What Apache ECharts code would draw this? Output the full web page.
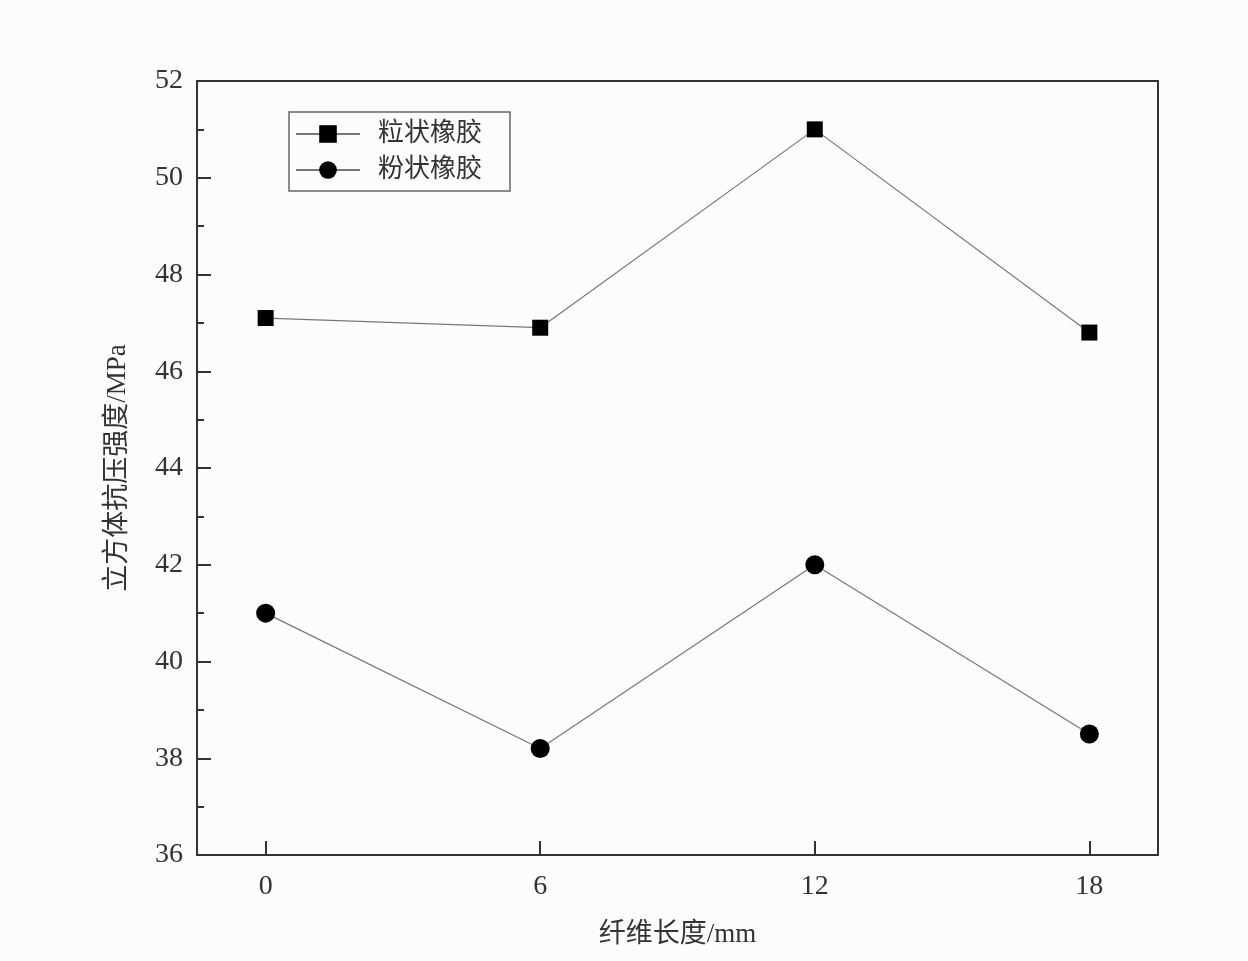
<!DOCTYPE html>
<html><head><meta charset="utf-8">
<script src="https://cdn.jsdelivr.net/npm/echarts@6/dist/echarts.min.js"></script>
<style>html,body{margin:0;padding:0;background:#fcfcfc}#c{width:1248px;height:961px}</style>
</head><body><div id="c"></div>
<script>
var fiberLength = [0, 6, 12, 18];
var xTicks = [0, 6, 12, 18];
var granular = [47.1, 46.9, 51.0, 46.8];
var powder = [41.0, 38.2, 42.0, 38.5];
var seriesNames = ['粒状橡胶', '粉状橡胶'];

var serif = '"Liberation Serif", "Noto Sans CJK SC", serif';
var txt = '#333';
function pairs(xs, ys){ return xs.map(function(x,i){return [x, ys[i]];}); }

var chart = echarts.init(document.getElementById('c'));
chart.setOption({
  backgroundColor: '#fcfcfc',
  animation: false,
  grid: {left:197, right:90, top:81, bottom:106, show:true, borderColor:'#333', borderWidth:2, backgroundColor:'transparent'},
  legend: {
    left: 289, top: 112, orient: 'vertical',
    padding: [9, 28, 8, 6],
    itemGap: 10,
    borderColor: '#666', borderWidth: 1.5,
    itemWidth: 64, itemHeight: 22,
    textStyle: {fontFamily: serif, fontSize: 26, color: txt, padding:[0,0,0,13]},
    data: seriesNames
  },
  xAxis: {
    type: 'value', min: -1.5, max: 19.5,
    name: '纤维长度/mm', nameLocation: 'middle', nameGap: 66,
    nameTextStyle: {fontFamily: serif, fontSize: 27, color: txt},
    axisLine: {show:true, onZero:false, lineStyle:{color:'#333', width:2}},
    axisTick: {show:true, inside:true, length:14, lineStyle:{color:'#333', width:2}, customValues: xTicks},
    axisLabel: {fontFamily: serif, fontSize: 28, color: txt, margin: 18, customValues: xTicks},
    splitLine: {show:false}
  },
  yAxis: {
    type: 'value', min: 36, max: 52, interval: 2,
    name: '立方体抗压强度/MPa', nameLocation: 'middle', nameGap: 66,
    nameTextStyle: {fontFamily: serif, fontSize: 27, color: txt},
    axisLine: {show:true, onZero:false, lineStyle:{color:'#333', width:2}},
    axisTick: {show:true, inside:true, length:14, lineStyle:{color:'#333', width:2}},
    minorTick: {show:true, splitNumber:2, length:7, lineStyle:{color:'#333', width:2}},
    axisLabel: {fontFamily: serif, fontSize: 28, color: txt, margin: 14},
    splitLine: {show:false}
  },
  series: [
    {name: seriesNames[0], type:'line', data: pairs(fiberLength, granular),
     symbol:'rect', symbolSize:16, itemStyle:{color:'#000'},
     lineStyle:{color:'#777', width:1.2}},
    {name: seriesNames[1], type:'line', data: pairs(fiberLength, powder),
     symbol:'circle', symbolSize:19, itemStyle:{color:'#000'},
     lineStyle:{color:'#777', width:1.2}}
  ]
});
</script></body></html>
